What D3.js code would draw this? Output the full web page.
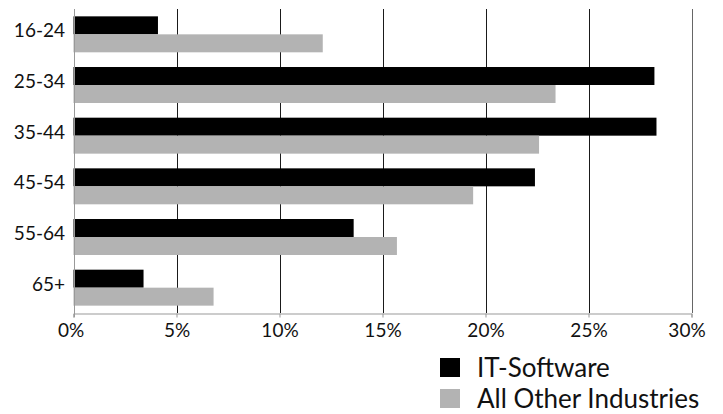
<!DOCTYPE html>
<html>
<head>
<meta charset="utf-8">
<script src="https://cdn.jsdelivr.net/npm/d3@7"></script>
<style>
  html, body { margin: 0; padding: 0; background: #fff; }
  svg { display: block; font-family: Lato, "Open Sans", sans-serif; }
</style>
</head>
<body>
<svg id="chart" width="723" height="414"></svg>
<script>
const categories = ["16-24", "25-34", "35-44", "45-54", "55-64", "65+"];
const seriesNames = ["IT-Software", "All Other Industries"];
const itSoftware = [4.1, 28.2, 28.3, 22.4, 13.6, 3.4];
const allOther = [12.1, 23.4, 22.6, 19.4, 15.7, 6.8];
const xTicks = [0, 5, 10, 15, 20, 25, 30];
const colors = ["#000000", "#b3b3b3"];

(function () {
const svg = d3.select("#chart");
const pLeft = 73.5, pRight = 691.5, pTop = 9, pBottom = 313;

const x = d3.scaleLinear().domain([0, 30]).range([pLeft, pRight]);
const y = d3.scaleBand().domain(categories).range([pTop, pBottom])
  .paddingInner(0.29).paddingOuter(0.145);
const sub = d3.scaleBand().domain(seriesNames).range([0, y.bandwidth()]);

// gridlines
svg.append("g").selectAll("line").data(xTicks.filter(d => d > 0)).join("line")
  .attr("x1", d => Math.round(x(d)) + 0.5).attr("x2", d => Math.round(x(d)) + 0.5)
  .attr("y1", pTop).attr("y2", pBottom)
  .attr("stroke", d => d === 30 ? "#666" : "#1a1a1a").attr("stroke-width", 1);

// bars
const data = categories.map((c, i) => ({ cat: c, vals: [itSoftware[i], allOther[i]] }));
const groups = svg.append("g").selectAll("g").data(data).join("g")
  .attr("transform", d => `translate(0,${y(d.cat)})`);
groups.selectAll("rect").data(d => d.vals.map((v, j) => ({ v, s: seriesNames[j], j })))
  .join("rect")
  .attr("x", x(0))
  .attr("y", d => sub(d.s))
  .attr("width", d => x(d.v) - x(0))
  .attr("height", sub.bandwidth())
  .attr("fill", d => colors[d.j]);

// left axis line
svg.append("line")
  .attr("x1", Math.round(x(0)) + 0.5).attr("x2", Math.round(x(0)) + 0.5)
  .attr("y1", pTop).attr("y2", pBottom + 4)
  .attr("stroke", "#999");

// bottom axis
const xAxis = d3.axisBottom(x).tickValues(xTicks).tickFormat(d => d + "%").tickSize(4).tickPadding(6);
const gx = svg.append("g").attr("transform", `translate(0,${pBottom + 0.5})`).call(xAxis);
gx.select(".domain").attr("stroke", "#999");
gx.selectAll(".tick line").attr("stroke", "#999");
gx.selectAll(".tick text").attr("font-size", 19).attr("fill", "#111")
  .attr("font-family", "Lato, sans-serif")
  .attr("dx", d => d === 0 ? -3 : (d === 30 ? -5 : 0));

// category labels
svg.append("g").selectAll("text").data(categories).join("text")
  .attr("x", 65).attr("y", d => y(d) + y.bandwidth() / 2 + 3)
  .attr("text-anchor", "end")
  .attr("font-size", 19).attr("fill", "#111")
  .text(d => d);

// legend
const legend = svg.append("g").selectAll("g").data(seriesNames).join("g")
  .attr("transform", (d, i) => `translate(440,${358 + i * 31})`);
legend.append("rect").attr("width", 20).attr("height", 19).attr("fill", (d, i) => colors[i]);
legend.append("text").attr("x", 37).attr("y", 18.5)
  .attr("font-size", 26).attr("fill", "#111").text(d => d);
})();
</script>
</body>
</html>
